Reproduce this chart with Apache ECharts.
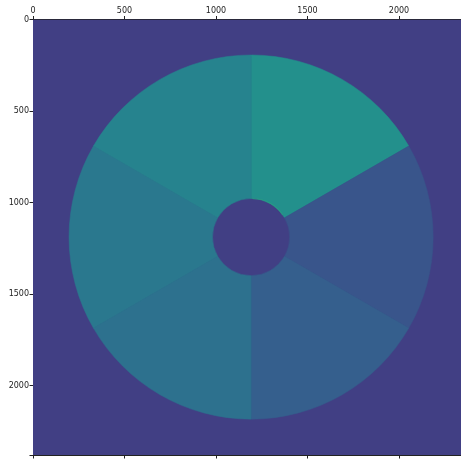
<!DOCTYPE html>
<html><head><meta charset="utf-8">
<script src="https://cdn.jsdelivr.net/npm/echarts@6/dist/echarts.min.js"></script>
<style>html,body{margin:0;padding:0;background:#fff}#c{width:461px;height:459px}</style>
</head><body><div id="c"></div>
<script>
// Image extent (pixels); x visible up to the window edge
const imgSize = 2380;
const xVisibleMax = 2339;
const xTicks = [0, 500, 1000, 1500, 2000];
const yTicks = [0, 500, 1000, 1500, 2000];
// Disk geometry (image pixel units)
const center = [1192, 1189];
const innerRadius = 211;
const outerRadius = 995;
// Sectors: screen angles in degrees (clockwise from +x), and intensity
const sectorStart = [-90, -30, 30, 90, 150, 210];
const sectorEnd   = [-30, 30, 90, 150, 210, 270];
const sectorValue = [0.50, 0.265, 0.30, 0.37, 0.40, 0.45];
const backgroundValue = 0.19;
// thin bright rim at the inner edge of the top-right sector
const rimStart = [-88];
const rimEnd = [-35];
const rimValue = [0.62];

const viridis = ['#440154','#482878','#3e4989','#31688e','#26828e','#1f9e89','#35b779','#6ece58','#b5de2b','#fde725'];

const bgData = [[0, 0, imgSize, imgSize, backgroundValue]];
const sectorData = sectorStart.map((s, i) => [center[0], center[1], innerRadius, outerRadius, sectorValue[i], s, sectorEnd[i]]);
const rimData = rimStart.map((s, i) => [center[0], center[1], innerRadius - 3, innerRadius + 3, rimValue[i], s, rimEnd[i]]);

const chart = echarts.init(document.getElementById('c'));
const axisCommon = {
  axisLine: { show: true, lineStyle: { color: '#222', width: 1 } },
  axisTick: { show: true, length: 3.5, lineStyle: { color: '#222' } },
  splitLine: { show: false }
};
function sectorRender(params, api) {
  const c = api.coord([api.value(0), api.value(1)]);
  const r0 = api.size([api.value(2), 0])[0];
  const r = api.size([api.value(3), 0])[0];
  const sa = api.value(5) * Math.PI / 180, ea = api.value(6) * Math.PI / 180;
  return { type: 'sector', shape: { cx: c[0], cy: c[1], r0: r0, r: r, startAngle: sa, endAngle: ea, clockwise: true },
    style: { fill: api.visual('color'), stroke: api.visual('color'), lineWidth: 0.5 } };
}
chart.setOption({
  animation: false,
  backgroundColor: '#ffffff',
  grid: { left: 33, top: 19.5, width: 428, height: 435.5 },
  visualMap: [
    { show: false, type: 'continuous', min: 0, max: 1, seriesIndex: [0, 1, 2], dimension: 4, inRange: { color: viridis } }
  ],
  xAxis: [
    Object.assign({ type: 'value', position: 'top', min: 0, max: xVisibleMax, interval: 500,
      axisLabel: { fontSize: 8, color: '#222', fontFamily: 'DejaVu Sans', margin: 5,
        customValues: xTicks, formatter: v => String(v) } }, axisCommon),
    Object.assign({ type: 'value', position: 'bottom', min: 0, max: xVisibleMax, interval: 500,
      axisLabel: { show: false } }, axisCommon)
  ],
  yAxis: [
    Object.assign({ type: 'value', inverse: true, min: 0, max: imgSize, interval: 500,
      axisLabel: { fontSize: 8, color: '#222', fontFamily: 'DejaVu Sans', margin: 4,
        customValues: yTicks, formatter: v => String(v) } }, axisCommon)
  ],
  series: [
    { type: 'custom', coordinateSystem: 'cartesian2d', xAxisIndex: 0, yAxisIndex: 0, clip: true,
      encode: { x: [0, 2], y: [1, 3] },
      data: bgData,
      renderItem: (params, api) => {
        const p0 = api.coord([api.value(0), api.value(1)]);
        const p1 = api.coord([api.value(2), api.value(3)]);
        return { type: 'rect', shape: { x: p0[0], y: p0[1], width: p1[0] - p0[0], height: p1[1] - p0[1] },
          style: { fill: api.visual('color') } };
      } },
    { type: 'custom', coordinateSystem: 'cartesian2d', xAxisIndex: 0, yAxisIndex: 0,
      encode: { x: 0, y: 1 }, data: sectorData, renderItem: sectorRender },
    { type: 'custom', coordinateSystem: 'cartesian2d', xAxisIndex: 0, yAxisIndex: 0,
      encode: { x: 0, y: 1 }, data: rimData,
      renderItem: (params, api) => {
        const el = sectorRender(params, api);
        el.style.opacity = 0.5;
        el.style.lineWidth = 0;
        return el;
      } }
  ]
});
</script></body></html>
